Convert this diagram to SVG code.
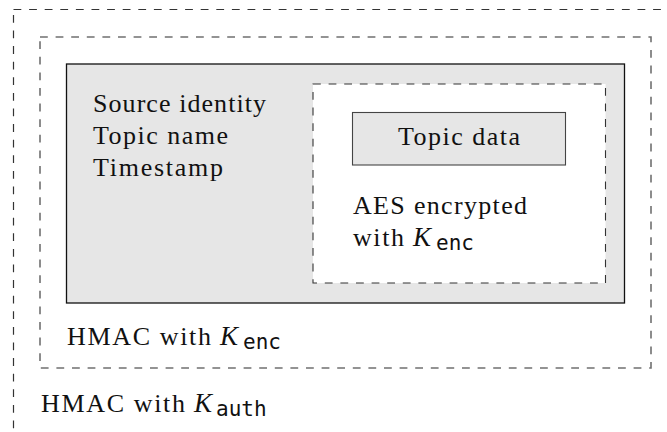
<svg xmlns="http://www.w3.org/2000/svg" width="667" height="432" viewBox="0 0 667 432">
  <style>
    .rm { font-family: "Liberation Serif", "Times New Roman", serif; font-size: 26px; fill: #111; }
    .it { font-family: "Liberation Serif", "Times New Roman", serif; font-size: 27px; font-style: italic; fill: #111; }
    .tt { font-family: "DejaVu Sans Mono", "Liberation Mono", monospace; font-size: 21px; fill: #111; }
    .dash-outer { fill: none; stroke: #333; stroke-width: 1.2; stroke-dasharray: 7.8 7.8; }
    .dash-mid { fill: none; stroke: #707070; stroke-width: 1.6; stroke-dasharray: 7.8 7.8; }
    .dash-inner { fill: #fff; stroke: #333; stroke-width: 1.1; stroke-dasharray: 7.8 7.8; }
    .solid { fill: #e6e6e6; stroke: #111; stroke-width: 1.3; }
    .data { fill: #e6e6e6; stroke: #444; stroke-width: 1.1; }
  </style>

  <rect width="667" height="432" fill="#fff"/>

  <!-- outermost envelope: HMAC with K_auth (runs past the right and bottom edges) -->
  <g id="auth-envelope">
    <rect class="dash-outer" x="13.5" y="9.5" width="700" height="500"/>
    <text class="rm" x="41" y="411.5" textLength="144" lengthAdjust="spacing">HMAC with</text>
    <text class="it" x="194" y="411.5">K</text>
    <text class="tt" x="216" y="415.5">auth</text>
  </g>

  <!-- HMAC with K_enc envelope -->
  <g id="enc-envelope">
    <rect class="dash-mid" x="40" y="37" width="611" height="331"/>
    <text class="rm" x="67" y="345" textLength="144" lengthAdjust="spacing">HMAC with</text>
    <text class="it" x="220" y="345">K</text>
    <text class="tt" x="243" y="349">enc</text>
  </g>

  <!-- message body with header fields -->
  <g id="message">
    <rect class="solid" x="66.5" y="64" width="558" height="239"/>
    <text class="rm" x="93" y="112" textLength="173" lengthAdjust="spacing">Source identity</text>
    <text class="rm" x="93" y="144" textLength="135" lengthAdjust="spacing">Topic name</text>
    <text class="rm" x="93" y="176" textLength="130" lengthAdjust="spacing">Timestamp</text>
  </g>

  <!-- encrypted payload -->
  <g id="encrypted-payload">
    <rect class="dash-inner" x="313" y="84" width="292.5" height="199"/>
    <text class="rm" x="353" y="213.5" textLength="174" lengthAdjust="spacing">AES encrypted</text>
    <text class="rm" x="353" y="246" textLength="51" lengthAdjust="spacing">with</text>
    <text class="it" x="413" y="246">K</text>
    <text class="tt" x="436" y="250">enc</text>
  </g>

  <!-- topic data -->
  <g id="topic-data">
    <rect class="data" x="352.5" y="112.5" width="213" height="52.5"/>
    <text class="rm" x="398" y="145" textLength="122" lengthAdjust="spacing">Topic data</text>
  </g>

  <g id="connectors"/>
</svg>
